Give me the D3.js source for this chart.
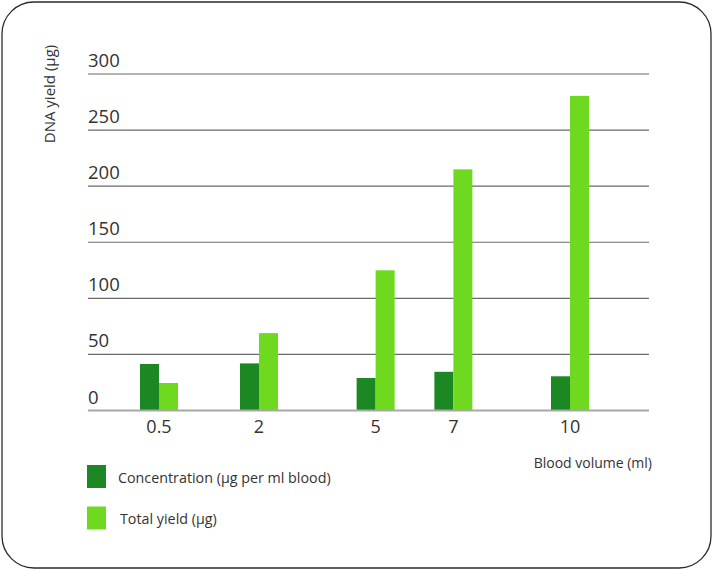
<!DOCTYPE html>
<html>
<head>
<meta charset="utf-8">
<script src="https://cdn.jsdelivr.net/npm/d3@7"></script>
<style>
  html, body { margin: 0; padding: 0; background: #fff; }
  svg { display: block; font-family: "Open Sans", "Noto Sans", sans-serif; }
</style>
</head>
<body>
<svg id="chart" width="713" height="569"></svg>
<script>
// Blood volume (ml) per sample
const volumes = [0.5, 2, 5, 7, 10];
const volumeLabels = ["0.5", "2", "5", "7", "10"];
// DNA concentration (µg per ml blood)
const concentration = [41.5, 42, 29, 34.5, 30.5];
// Total DNA yield (µg)
const totalYield = [24.5, 69, 125, 215, 280.5];
// y axis ticks
const yTicks = [0, 50, 100, 150, 200, 250, 300];

const seriesNames = ["Concentration (µg per ml blood)", "Total yield (µg)"];
const colors = ["#1c8824", "#6fd920"];

const svg = d3.select("#chart");

// rounded frame
svg.append("rect")
  .attr("x", 2).attr("y", 2)
  .attr("width", 709).attr("height", 566)
  .attr("rx", 32).attr("ry", 32)
  .attr("fill", "#fff")
  .attr("stroke", "#2b2b2b")
  .attr("stroke-width", 1.3);

const plotLeft = 88, plotRight = 649;
const y = d3.scaleLinear().domain([0, 300]).range([410.5, 74]);
// volume axis: stretched segment for the small volumes, linear above 2 ml
const x = d3.scaleLinear().domain([0.5, 2, 10]).range([159, 259, 570]);
const barW = 19;

// gridlines
const grid = svg.append("g");
grid.selectAll("line")
  .data(yTicks.filter(d => d > 0))
  .join("line")
  .attr("x1", plotLeft).attr("x2", plotRight)
  .attr("y1", d => y(d)).attr("y2", d => y(d))
  .attr("stroke", "#6a6a6a").attr("stroke-width", 1.2);

// y tick labels, sitting above their gridlines
svg.append("g").selectAll("text")
  .data(yTicks)
  .join("text")
  .attr("x", plotLeft)
  .attr("y", d => y(d) - 7)
  .attr("font-size", 18.5)
  .attr("fill", "#333")
  .text(d => d);

// bars
const groups = svg.append("g").selectAll("g")
  .data(volumes.map((v, i) => ({ v, c: concentration[i], t: totalYield[i] })))
  .join("g");

groups.append("rect")
  .attr("x", d => x(d.v) - barW)
  .attr("y", d => y(d.c))
  .attr("width", barW)
  .attr("height", d => y(0) - y(d.c))
  .attr("fill", colors[0]);

groups.append("rect")
  .attr("x", d => x(d.v))
  .attr("y", d => y(d.t))
  .attr("width", barW)
  .attr("height", d => y(0) - y(d.t))
  .attr("fill", colors[1]);

// baseline
svg.append("line")
  .attr("x1", plotLeft).attr("x2", plotRight)
  .attr("y1", y(0)).attr("y2", y(0))
  .attr("stroke", "#a8a8a8").attr("stroke-width", 2);

// x tick labels
svg.append("g").selectAll("text")
  .data(volumes)
  .join("text")
  .attr("x", d => x(d))
  .attr("y", 433)
  .attr("text-anchor", "middle")
  .attr("font-size", 18)
  .attr("fill", "#333")
  .text((d, i) => volumeLabels[i]);

// axis titles
svg.append("text")
  .attr("x", 652).attr("y", 468)
  .attr("text-anchor", "end")
  .attr("font-size", 14)
  .attr("fill", "#333")
  .text("Blood volume (ml)");

svg.append("text")
  .attr("transform", "translate(55,94) rotate(-90)")
  .attr("text-anchor", "middle")
  .attr("font-size", 15)
  .attr("fill", "#333")
  .text("DNA yield (µg)");

// legend
const legend = svg.append("g").selectAll("g")
  .data(seriesNames)
  .join("g")
  .attr("transform", (d, i) => `translate(87,${465 + i * 41.5})`);

legend.append("rect")
  .attr("width", 19).attr("height", 23)
  .attr("fill", (d, i) => colors[i]);

legend.append("text")
  .attr("x", (d, i) => i === 0 ? 31 : 33)
  .attr("y", 17.5)
  .attr("font-size", 14.3)
  .attr("fill", "#333")
  .text(d => d);
</script>
</body>
</html>
